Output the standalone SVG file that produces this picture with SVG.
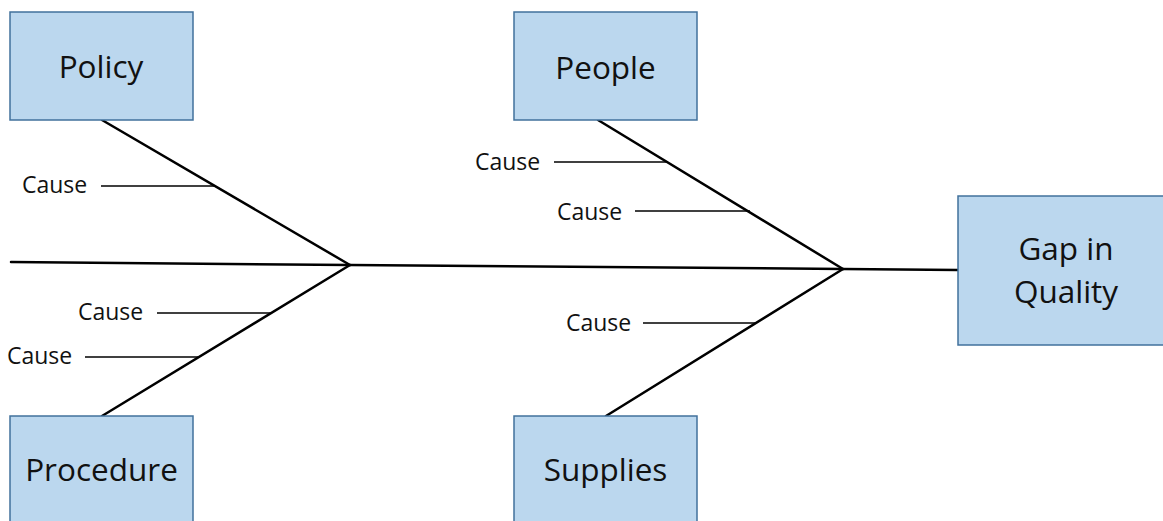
<svg xmlns="http://www.w3.org/2000/svg" width="1163" height="521" viewBox="0 0 1163 521">
<style>
.box{fill:#BBD7EE;stroke:#41719C;stroke-width:1.5}
.lbl{font-family:"Open Sans","Liberation Sans",sans-serif;font-size:31.5px;fill:#111;text-anchor:middle}
.cause{font-family:"Open Sans","Liberation Sans",sans-serif;font-size:23px;fill:#111}
.bone{stroke:#000;stroke-width:2.5;fill:none;stroke-linecap:round}
.tick{stroke:#000;stroke-width:1.5;fill:none}
</style>
<rect width="1163" height="521" fill="#fff"/>
<g id="connectors">
<polyline class="bone" points="11,262 350,265 843,269 958,270"/>
<line class="bone" x1="102" y1="120" x2="350" y2="265"/>
<line class="bone" x1="102" y1="416" x2="350" y2="265"/>
<line class="bone" x1="598" y1="120" x2="843" y2="269"/>
<line class="bone" x1="606" y1="416" x2="843" y2="269"/>
<line class="tick" x1="101" y1="186" x2="214" y2="186"/>
<line class="tick" x1="554" y1="162" x2="668" y2="162"/>
<line class="tick" x1="635" y1="211" x2="750" y2="211"/>
<line class="tick" x1="157" y1="313" x2="271" y2="313"/>
<line class="tick" x1="85" y1="357" x2="198" y2="357"/>
<line class="tick" x1="643" y1="323" x2="756" y2="323"/>
</g>
<g id="causes">
<text class="cause" x="22" y="193">Cause</text>
<text class="cause" x="475" y="170">Cause</text>
<text class="cause" x="557" y="220">Cause</text>
<text class="cause" x="78" y="320">Cause</text>
<text class="cause" x="7" y="364">Cause</text>
<text class="cause" x="566" y="331">Cause</text>
</g>
<g id="policy">
<rect class="box" x="10" y="12" width="183" height="108"/>
<text class="lbl" x="101" y="78">Policy</text>
</g>
<g id="people">
<rect class="box" x="514" y="12" width="183" height="108"/>
<text class="lbl" x="605.5" y="79">People</text>
</g>
<g id="procedure">
<rect class="box" x="10" y="416" width="183" height="108"/>
<text class="lbl" x="101.5" y="481">Procedure</text>
</g>
<g id="supplies">
<rect class="box" x="514" y="416" width="183" height="108"/>
<text class="lbl" x="605.5" y="481">Supplies</text>
</g>
<g id="gap">
<rect class="box" x="958" y="196" width="206" height="149"/>
<text class="lbl" x="1066" y="260">Gap in</text>
<text class="lbl" x="1066" y="303">Quality</text>
</g>
</svg>
